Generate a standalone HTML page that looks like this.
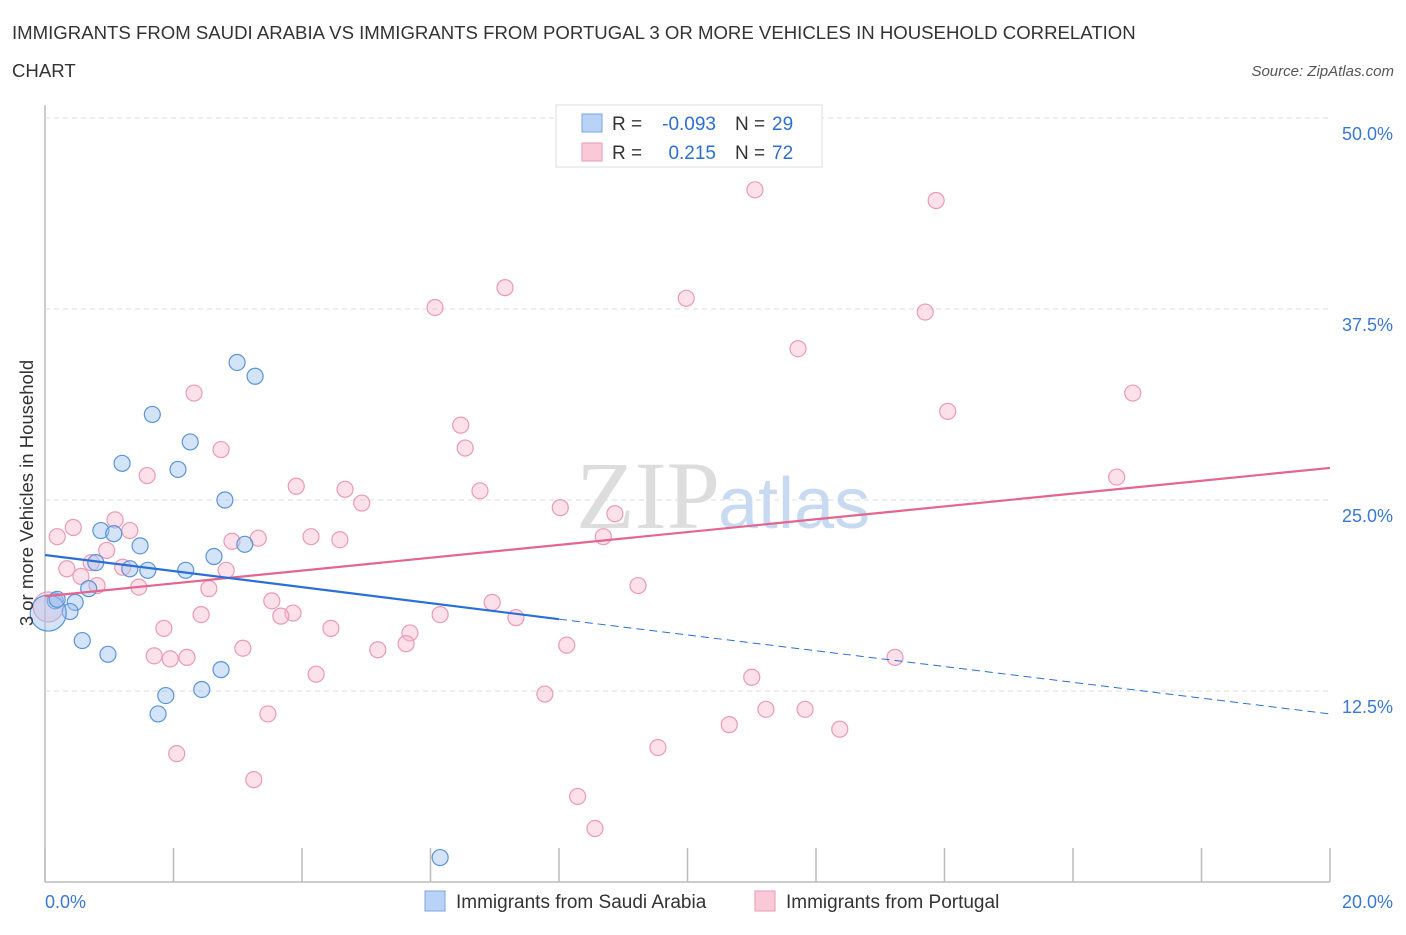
<!DOCTYPE html>
<html><head><meta charset="utf-8"><style>
body{margin:0;background:#fff;font-family:"Liberation Sans",sans-serif;}
</style></head><body>
<svg width="1406" height="930" xmlns="http://www.w3.org/2000/svg">
<text x="12" y="39" font-size="18.6" fill="#333">IMMIGRANTS FROM SAUDI ARABIA VS IMMIGRANTS FROM PORTUGAL 3 OR MORE VEHICLES IN HOUSEHOLD CORRELATION</text>
<text x="12" y="77" font-size="18.6" fill="#333">CHART</text>
<text x="1394" y="76" font-size="15" fill="#555" font-style="italic" text-anchor="end">Source: ZipAtlas.com</text>
<g id="grid"></g>
<text x="720" y="528" font-size="96" fill="#ddd" text-anchor="end" font-family="Liberation Serif,serif">ZIP</text>
<text x="718" y="528" font-size="72" fill="#c8daf2">atlas</text>
<g id="marks"></g>
<text x="33" y="493" font-size="18.5" fill="#333" text-anchor="middle" transform="rotate(-90 33 493)">3 or more Vehicles in Household</text>
<g>
<rect x="556" y="105" width="266" height="62" fill="#fff" stroke="#ddd"/>
<rect x="582" y="114" width="20" height="18" fill="#b8d3f5" stroke="#7aa6e0"/>
<rect x="582" y="143" width="20" height="18" fill="#fac9d8" stroke="#e89ab3"/>
<text x="612" y="130" font-size="19" fill="#333">R =</text>
<text x="716" y="130" font-size="19" fill="#2c6fd1" text-anchor="end">-0.093</text>
<text x="735" y="130" font-size="19" fill="#333">N =</text>
<text x="772" y="130" font-size="19" fill="#2c6fd1">29</text>
<text x="612" y="159" font-size="19" fill="#333">R =</text>
<text x="716" y="159" font-size="19" fill="#2c6fd1" text-anchor="end">0.215</text>
<text x="735" y="159" font-size="19" fill="#333">N =</text>
<text x="772" y="159" font-size="19" fill="#2c6fd1">72</text>
</g>
<g>
<rect x="425" y="891" width="20" height="20" fill="#b8d3f5" stroke="#7aa6e0"/>
<text x="456" y="908" font-size="19" fill="#333">Immigrants from Saudi Arabia</text>
<rect x="755" y="891" width="20" height="20" fill="#fac9d8" stroke="#e89ab3"/>
<text x="786" y="908" font-size="19" fill="#333">Immigrants from Portugal</text>
</g>
</svg>
<script>
const xTicks=[0,2,4,6,8,10,12,14,16,18,20];
const yTicks=[12.5,25,37.5,50];
const blueX=[2.99,3.27,1.67,2.26,1.2,2.07,2.8,0.87,1.07,3.11,1.48,2.63,0.79,1.32,1.6,2.19,0.68,0.16,0.47,0.39,0.05,0.58,0.98,2.74,1.88,2.44,1.76,6.15,0.19];
const blueY=[34.0,33.1,30.6,28.8,27.4,27.0,25.0,23.0,22.8,22.1,22.0,21.3,20.9,20.5,20.4,20.4,19.2,18.4,18.3,17.7,17.6,15.8,14.9,13.9,12.2,12.6,11.0,1.6,18.5];
const blueR=[8,8,8,8,8,8,8,8,8,8,8,8,8,8,8,8,8,8,8,8,18,8,8,8,8,8,8,8,8];
const pinkX=[11.05,13.87,7.16,9.98,6.07,13.7,11.72,2.32,16.93,14.05,6.47,6.54,2.74,1.59,16.68,3.91,6.77,4.67,4.93,8.02,8.87,0.44,1.09,1.32,0.19,4.14,4.59,3.32,2.91,8.69,0.96,0.72,0.34,1.21,0.56,2.82,0.81,1.46,2.55,9.23,3.53,6.96,3.86,3.67,2.43,6.15,7.33,1.85,4.45,5.68,5.62,8.12,3.08,5.18,1.7,1.95,2.21,13.23,4.22,11.0,7.78,3.47,11.22,11.83,10.65,12.37,9.54,2.05,3.25,8.29,8.56,0.05];
const pinkY=[45.3,44.6,38.9,38.2,37.6,37.3,34.9,32.0,32.0,30.8,29.9,28.4,28.3,26.6,26.5,25.9,25.6,25.7,24.8,24.5,24.1,23.2,23.7,23.0,22.6,22.6,22.4,22.5,22.3,22.6,21.7,20.9,20.5,20.6,20.0,20.4,19.4,19.3,19.2,19.4,18.4,18.3,17.6,17.4,17.5,17.5,17.3,16.6,16.6,16.3,15.6,15.5,15.3,15.2,14.8,14.6,14.7,14.7,13.6,13.4,12.3,11.0,11.3,11.3,10.3,10.0,8.8,8.4,6.7,5.6,3.5,18.0];
const pinkR=Array(72).fill(8);pinkR[71]=15;
const blueLine=[[0,21.4],[8,17.2]];
const blueDash=[[8,17.2],[20,11.0]];
const pinkLine=[[0,18.7],[20,27.1]];
const X0=45,X1=1330,Y0=882,Y1=118;
const sx=v=>X0+v/20*(X1-X0);
const sy=v=>Y0-v/50*(Y0-Y1);
const NS="http://www.w3.org/2000/svg";
const grid=document.getElementById('grid'),marks=document.getElementById('marks'),svg=document.querySelector('svg');
function mk(tag,a,p){const e=document.createElementNS(NS,tag);for(const k in a)e.setAttribute(k,a[k]);(p||svg).appendChild(e);return e;}
let ax=mk('line',{x1:X0,y1:105,x2:X0,y2:Y0,stroke:'#bbb','stroke-width':1.5},grid);


let bx=mk('line',{x1:X0,y1:Y0,x2:X1,y2:Y0,stroke:'#bbb','stroke-width':1.5},grid);


yTicks.forEach(t=>{
 const g=mk('line',{x1:X0,y1:sy(t),x2:X1,y2:sy(t),stroke:'#ddd','stroke-dasharray':'5,4'},grid);
 
 
 const l=mk('text',{x:1393,y:sy(t)+22,'font-size':18,fill:'#3a78d6','text-anchor':'end'},grid);
 l.textContent=t.toFixed(1)+'%';
 
 
});
xTicks.forEach(t=>{
 const k=mk('line',{x1:sx(t),y1:848,x2:sx(t),y2:Y0,stroke:'#bbb','stroke-width':1.5},grid);
 
 
});
[[0,'0.0%',45,'start'],[20,'20.0%',1393,'end']].forEach(([v,s,x,a])=>{
 const l=mk('text',{x:x,y:908,'font-size':18,fill:'#3a78d6','text-anchor':a},grid);
 l.textContent=s;
 
 
});
function pts(X,Y,R,fill,stroke,name){X.forEach((x,i)=>{
 const c=mk('circle',{cx:sx(x),cy:sy(Y[i]),r:R[i],fill:fill,stroke:stroke,'stroke-width':1.2},marks);
 
 
});}
pts(pinkX,pinkY,pinkR,'rgba(248,180,203,0.4)','#ec9ab4','portugal-point');
pts(blueX,blueY,blueR,'rgba(160,196,240,0.45)','#5b93db','saudi-arabia-point');
function ln(L,col,w,dash,name){const e=mk('line',{x1:sx(L[0][0]),y1:sy(L[0][1]),x2:sx(L[1][0]),y2:sy(L[1][1]),stroke:col,'stroke-width':w},marks);
 if(dash)e.setAttribute('stroke-dasharray',dash);
 
 }
ln(pinkLine,'#e4668e',2.2,null,'portugal-trend-line');
ln(blueLine,'#2a6fd6',2.2,null,'saudi-arabia-trend-line');
ln(blueDash,'#2a6fd6',1,'8,5','saudi-arabia-trend-extension');
</script>
</body></html>
